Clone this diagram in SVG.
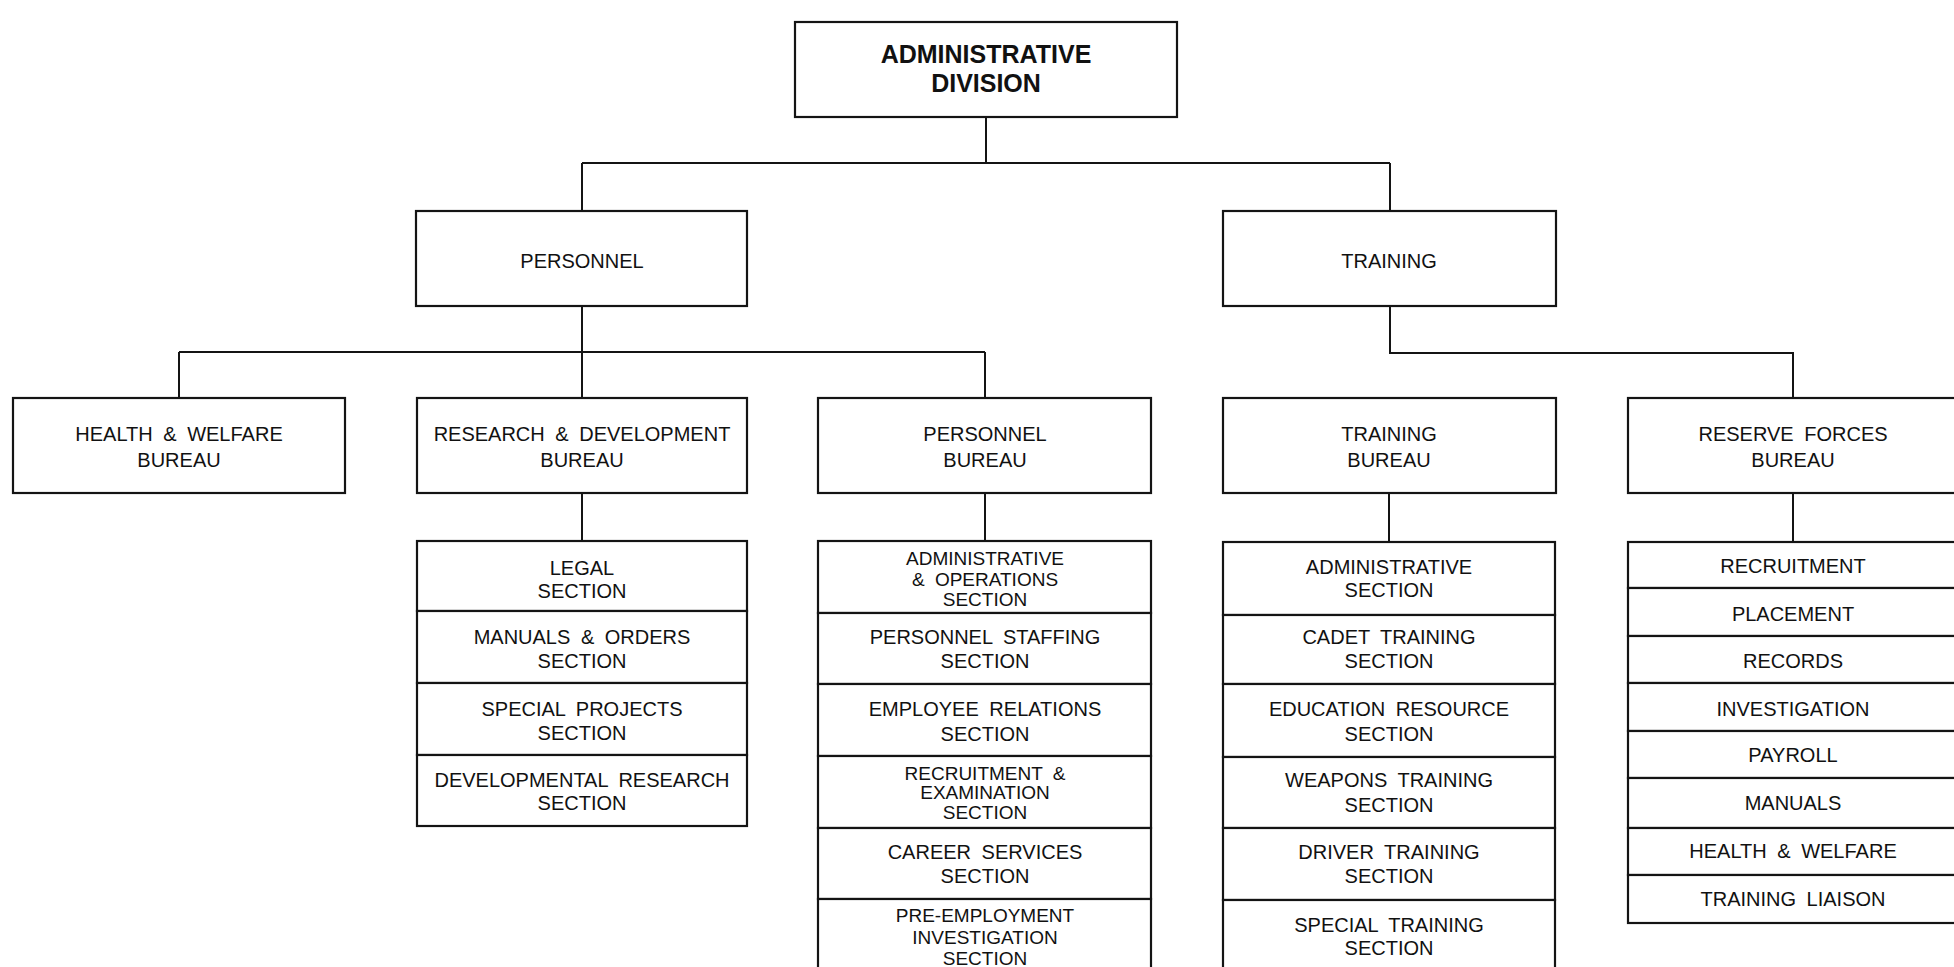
<svg xmlns="http://www.w3.org/2000/svg" width="1954" height="967" viewBox="0 0 1954 967">
<style>
  rect { fill: #ffffff; stroke: #141414; stroke-width: 2.2; }
  .c line, .c path { stroke: #141414; stroke-width: 2; fill: none; }
  text { font-family: "Liberation Sans", Arial, sans-serif; font-size: 20px; fill: #111; text-anchor: middle; word-spacing: 5px; }
  .t { font-size: 25px; font-weight: bold; word-spacing: 0; }
  .s3 { font-size: 19px; }
</style>
<rect x="0" y="0" width="1954" height="967" style="fill:#ffffff;stroke:none"/>

<g id="connectors" class="c">
  <path d="M986,117 V163 M582,163 H1390 M582,163 V211 M1390,163 V211"/>
  <path d="M582,306 V352 M179,352 H985 M179,352 V398 M582,352 V398 M985,352 V398"/>
  <path d="M1390,306 V353 H1793 V398"/>
  <path d="M582,493 V541 M985,493 V541 M1389,493 V542 M1793,493 V542"/>
</g>

<g id="administrative-division">
  <rect x="795" y="22" width="382" height="95"/>
  <text class="t" x="986" y="63">ADMINISTRATIVE</text>
  <text class="t" x="986" y="92">DIVISION</text>
</g>

<g id="personnel">
  <rect x="416" y="211" width="331" height="95"/>
  <text x="582" y="268">PERSONNEL</text>
</g>
<g id="training">
  <rect x="1223" y="211" width="333" height="95"/>
  <text x="1389" y="268">TRAINING</text>
</g>

<g id="health-welfare-bureau">
  <rect x="13" y="398" width="332" height="95"/>
  <text x="179" y="441">HEALTH &amp; WELFARE</text>
  <text x="179" y="467">BUREAU</text>
</g>
<g id="research-development-bureau">
  <rect x="417" y="398" width="330" height="95"/>
  <text x="582" y="441">RESEARCH &amp; DEVELOPMENT</text>
  <text x="582" y="467">BUREAU</text>
</g>
<g id="personnel-bureau">
  <rect x="818" y="398" width="333" height="95"/>
  <text x="985" y="441">PERSONNEL</text>
  <text x="985" y="467">BUREAU</text>
</g>
<g id="training-bureau">
  <rect x="1223" y="398" width="333" height="95"/>
  <text x="1389" y="441">TRAINING</text>
  <text x="1389" y="467">BUREAU</text>
</g>
<g id="reserve-forces-bureau">
  <rect x="1628" y="398" width="332" height="95"/>
  <text x="1793" y="441">RESERVE FORCES</text>
  <text x="1793" y="467">BUREAU</text>
</g>

<!-- R&D sections -->
<g id="legal-section">
  <rect x="417" y="541" width="330" height="70"/>
  <text x="582" y="575">LEGAL</text>
  <text x="582" y="598">SECTION</text>
</g>
<g id="manuals-orders-section">
  <rect x="417" y="611" width="330" height="72"/>
  <text x="582" y="644">MANUALS &amp; ORDERS</text>
  <text x="582" y="668">SECTION</text>
</g>
<g id="special-projects-section">
  <rect x="417" y="683" width="330" height="72"/>
  <text x="582" y="716">SPECIAL PROJECTS</text>
  <text x="582" y="740">SECTION</text>
</g>
<g id="developmental-research-section">
  <rect x="417" y="755" width="330" height="71"/>
  <text x="582" y="787">DEVELOPMENTAL RESEARCH</text>
  <text x="582" y="810">SECTION</text>
</g>

<!-- Personnel bureau sections -->
<g id="admin-operations-section">
  <rect x="818" y="541" width="333" height="72"/>
  <text class="s3" x="985" y="565">ADMINISTRATIVE</text>
  <text class="s3" x="985" y="586">&amp; OPERATIONS</text>
  <text class="s3" x="985" y="606">SECTION</text>
</g>
<g id="personnel-staffing-section">
  <rect x="818" y="613" width="333" height="71"/>
  <text x="985" y="644">PERSONNEL STAFFING</text>
  <text x="985" y="668">SECTION</text>
</g>
<g id="employee-relations-section">
  <rect x="818" y="684" width="333" height="72"/>
  <text x="985" y="716">EMPLOYEE RELATIONS</text>
  <text x="985" y="741">SECTION</text>
</g>
<g id="recruitment-examination-section">
  <rect x="818" y="756" width="333" height="72"/>
  <text class="s3" x="985" y="780">RECRUITMENT &amp;</text>
  <text class="s3" x="985" y="799">EXAMINATION</text>
  <text class="s3" x="985" y="819">SECTION</text>
</g>
<g id="career-services-section">
  <rect x="818" y="828" width="333" height="71"/>
  <text x="985" y="859">CAREER SERVICES</text>
  <text x="985" y="883">SECTION</text>
</g>
<g id="pre-employment-investigation-section">
  <rect x="818" y="899" width="333" height="90"/>
  <text class="s3" x="985" y="922">PRE-EMPLOYMENT</text>
  <text class="s3" x="985" y="944">INVESTIGATION</text>
  <text class="s3" x="985" y="965">SECTION</text>
</g>

<!-- Training bureau sections -->
<g id="administrative-section">
  <rect x="1223" y="542" width="332" height="73"/>
  <text x="1389" y="574">ADMINISTRATIVE</text>
  <text x="1389" y="597">SECTION</text>
</g>
<g id="cadet-training-section">
  <rect x="1223" y="615" width="332" height="69"/>
  <text x="1389" y="644">CADET TRAINING</text>
  <text x="1389" y="668">SECTION</text>
</g>
<g id="education-resource-section">
  <rect x="1223" y="684" width="332" height="73"/>
  <text x="1389" y="716">EDUCATION RESOURCE</text>
  <text x="1389" y="741">SECTION</text>
</g>
<g id="weapons-training-section">
  <rect x="1223" y="757" width="332" height="71"/>
  <text x="1389" y="787">WEAPONS TRAINING</text>
  <text x="1389" y="812">SECTION</text>
</g>
<g id="driver-training-section">
  <rect x="1223" y="828" width="332" height="72"/>
  <text x="1389" y="859">DRIVER TRAINING</text>
  <text x="1389" y="883">SECTION</text>
</g>
<g id="special-training-section">
  <rect x="1223" y="900" width="332" height="90"/>
  <text x="1389" y="932">SPECIAL TRAINING</text>
  <text x="1389" y="955">SECTION</text>
</g>

<!-- Reserve forces units -->
<g id="recruitment">
  <rect x="1628" y="542" width="332" height="46"/>
  <text x="1793" y="573">RECRUITMENT</text>
</g>
<g id="placement">
  <rect x="1628" y="588" width="332" height="48"/>
  <text x="1793" y="621">PLACEMENT</text>
</g>
<g id="records">
  <rect x="1628" y="636" width="332" height="47"/>
  <text x="1793" y="668">RECORDS</text>
</g>
<g id="investigation">
  <rect x="1628" y="683" width="332" height="48"/>
  <text x="1793" y="716">INVESTIGATION</text>
</g>
<g id="payroll">
  <rect x="1628" y="731" width="332" height="47"/>
  <text x="1793" y="762">PAYROLL</text>
</g>
<g id="manuals">
  <rect x="1628" y="778" width="332" height="50"/>
  <text x="1793" y="810">MANUALS</text>
</g>
<g id="health-welfare">
  <rect x="1628" y="828" width="332" height="47"/>
  <text x="1793" y="858">HEALTH &amp; WELFARE</text>
</g>
<g id="training-liaison">
  <rect x="1628" y="875" width="332" height="48"/>
  <text x="1793" y="906">TRAINING LIAISON</text>
</g>
</svg>
